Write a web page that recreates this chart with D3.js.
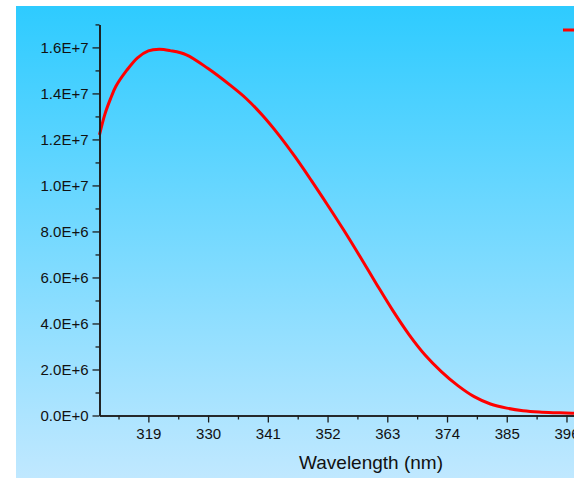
<!DOCTYPE html>
<html>
<head>
<meta charset="utf-8">
<script src="https://cdn.jsdelivr.net/npm/d3@7"></script>
<style>
html,body{margin:0;padding:0;background:#fff;overflow:hidden;}
svg{display:block;font-family:"Liberation Sans",Arial,sans-serif;}
</style>
</head>
<body>
<svg id="chart" width="574" height="478"></svg>
<script>
// Data
const wavelengths = [310,311,312,313,315,317,319,321,323,326,330,334,337,340,343,346,349,352,355,358,361,364,367,370,373,376,379,382,385,388,391,394,397,400,405,410];
const intensity = [12.2e6,13.1e6,13.75e6,14.3e6,15.0e6,15.55e6,15.85e6,15.92e6,15.86e6,15.68e6,15.08e6,14.37e6,13.78e6,13.05e6,12.2e6,11.25e6,10.22e6,9.15e6,8.05e6,6.9e6,5.72e6,4.57e6,3.52e6,2.62e6,1.9e6,1.3e6,0.82e6,0.5e6,0.32e6,0.21e6,0.15e6,0.12e6,0.1e6,0.09e6,0.08e6,0.07e6];
const xTicks = [319,330,341,352,363,374,385,396,407];
const xMinorTicks = [313.5,324.5,335.5,346.5,357.5,368.5,379.5,390.5,401.5];
const yTicks = [0,2e6,4e6,6e6,8e6,10e6,12e6,14e6,16e6];
const yMinorTicks = [1e6,3e6,5e6,7e6,9e6,11e6,13e6,15e6,17e6];
const xTitle = "Wavelength (nm)";

const svg = d3.select("#chart");
const defs = svg.append("defs");
const grad = defs.append("linearGradient").attr("id","bg").attr("x1",0).attr("y1",0).attr("x2",0).attr("y2",1);
grad.append("stop").attr("offset","0%").attr("stop-color","#2ECBFF");
grad.append("stop").attr("offset","100%").attr("stop-color","#C0E8FF");
svg.append("rect").attr("x",16).attr("y",6).attr("width",558).attr("height",472).attr("fill","url(#bg)");

const x = d3.scaleLinear().domain([310,410]).range([99.5,642.5]);
const y = d3.scaleLinear().domain([0,1.7e7]).range([415.5,24.4]);

// curve
const line = d3.line().x((d,i)=>x(wavelengths[i])).y(d=>y(d)).curve(d3.curveCatmullRom.alpha(0.5));
svg.append("path").datum(intensity).attr("d",line).attr("fill","none").attr("stroke","#FF0000").attr("stroke-width",3).attr("stroke-linejoin","round");

const axisColor = "#1c1c1c";
function styleAxis(g){
  g.selectAll("path.domain").attr("stroke",axisColor).attr("stroke-width",1.6);
  g.selectAll(".tick line").attr("stroke",axisColor).attr("stroke-width",1.3);
  g.selectAll(".tick text").attr("fill","#111").style("font-size","15px").style("font-family","'Liberation Sans',Arial,sans-serif");
}

// x minor
const gxm = svg.append("g").attr("transform",`translate(0,${y(0)})`)
  .call(d3.axisBottom(x).tickValues(xMinorTicks).tickSize(4).tickSizeOuter(0).tickFormat(""));
styleAxis(gxm);
const gx = svg.append("g").attr("transform",`translate(0,${y(0)})`)
  .call(d3.axisBottom(x).tickValues(xTicks).tickSize(7).tickSizeOuter(0).tickPadding(6).tickFormat(d3.format("d")));
styleAxis(gx);

// y minor
const gym = svg.append("g").attr("transform",`translate(${x(310)},0)`)
  .call(d3.axisLeft(y).tickValues(yMinorTicks).tickSize(4).tickSizeOuter(0).tickFormat(""));
styleAxis(gym);
const gy = svg.append("g").attr("transform",`translate(${x(310)},0)`)
  .call(d3.axisLeft(y).tickValues(yTicks).tickSize(7).tickSizeOuter(0).tickPadding(4)
    .tickFormat(v=>v.toExponential(1).toUpperCase()));
styleAxis(gy);

svg.append("text").attr("x",371).attr("y",469).attr("text-anchor","middle")
  .style("font-size","19px").attr("fill","#111").text(xTitle);

// legend (clipped at right edge)
svg.append("line").attr("x1",563).attr("x2",600).attr("y1",30).attr("y2",30)
  .attr("stroke","#FF0000").attr("stroke-width",3);
</script>
</body>
</html>
